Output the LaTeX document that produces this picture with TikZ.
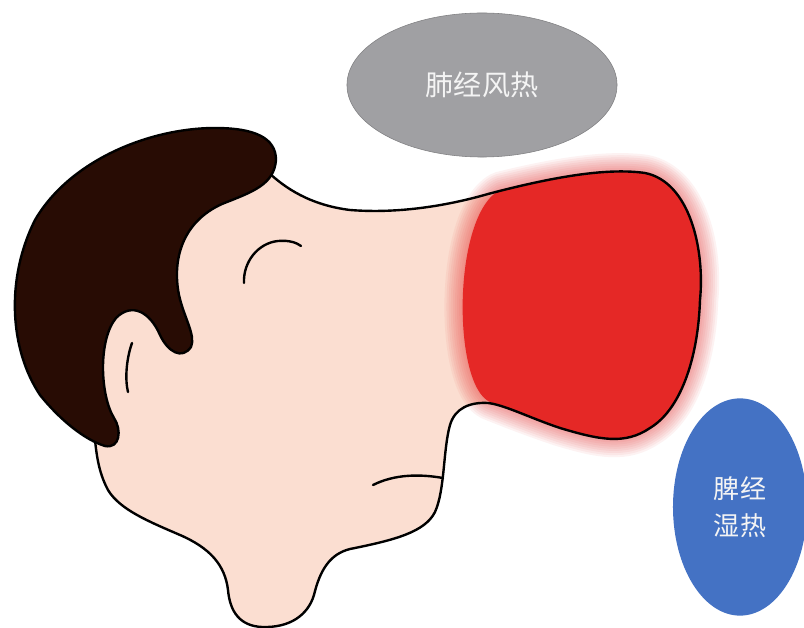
\documentclass[tikz,border=0pt]{standalone}
\usepackage{fontspec}
\newfontfamily\cjk{Noto Sans CJK SC}
\usetikzlibrary{shapes.geometric}
\definecolor{skin}{RGB}{251,222,209}
\definecolor{hairc}{RGB}{40,12,4}
\definecolor{nosered}{RGB}{229,40,38}
\definecolor{bubblegrey}{RGB}{160,160,163}
\definecolor{bubbleblue}{RGB}{68,114,196}
\definecolor{labeltext}{RGB}{244,244,244}
\tikzset{
  outline/.style={draw=black, line width=1.7pt, line cap=round, line join=round},
  bubble/.style={ellipse, inner sep=0pt, text=labeltext, font=\cjk},
}
% red area of the nose, rounded left edge fading into the face
\def\nosefill{(500,190) .. controls (560,175) and (610,168) .. (645,173)
  .. controls (690,182) and (705,250) .. (700,300)
  .. controls (698,360) and (680,410) .. (650,428)
  .. controls (625,445) and (600,440) .. (560,428)
  .. controls (530,418) and (505,408) .. (490,402)
  .. controls (452,385) and (452,215) .. (500,190) -- cycle}
\begin{document}
\begin{tikzpicture}[x=0.025cm, y=-0.025cm]
\useasboundingbox (0,0) rectangle (804,628);
\fill[white] (0,0) rectangle (804,628);

% skin of the face, partly hidden by the hair
\fill[skin] (268,172) .. controls (285,188) and (310,205) .. (350,210)
  .. controls (400,214) and (450,205) .. (488,194)
  .. controls (560,175) and (610,168) .. (645,173)
  .. controls (690,182) and (705,250) .. (700,300)
  .. controls (698,360) and (680,410) .. (650,428)
  .. controls (625,445) and (600,440) .. (560,428)
  .. controls (530,418) and (505,405) .. (488,403)
  .. controls (470,402) and (455,408) .. (450,425)
  .. controls (443,450) and (445,490) .. (435,512)
  .. controls (425,532) and (395,540) .. (350,549)
  .. controls (330,554) and (320,570) .. (314,595)
  .. controls (308,615) and (290,628) .. (262,627)
  .. controls (240,626) and (230,612) .. (228,590)
  .. controls (225,565) and (210,548) .. (180,535)
  .. controls (150,522) and (120,510) .. (108,490)
  .. controls (100,475) and (97,460) .. (95,440)
  -- (40,390) -- (25,250) -- (150,140) -- (265,150) -- cycle;

% glowing red nose
\foreach \w in {2,5,8,11,14,17,20,23,26}
  \draw[nosered, opacity=0.06, line width=\w pt, line join=round] \nosefill;
\fill[nosered] \nosefill;

% face contour: forehead, nose, chin
\draw[outline] (268,172) .. controls (285,188) and (310,205) .. (350,210)
  .. controls (400,214) and (450,205) .. (488,194)
  .. controls (560,175) and (610,168) .. (645,173)
  .. controls (690,182) and (705,250) .. (700,300)
  .. controls (698,360) and (680,410) .. (650,428)
  .. controls (625,445) and (600,440) .. (560,428)
  .. controls (530,418) and (505,405) .. (488,403)
  .. controls (470,402) and (455,408) .. (450,425)
  .. controls (443,450) and (445,490) .. (435,512)
  .. controls (425,532) and (395,540) .. (350,549)
  .. controls (330,554) and (320,570) .. (314,595)
  .. controls (308,615) and (290,628) .. (262,627)
  .. controls (240,626) and (230,612) .. (228,590)
  .. controls (225,565) and (210,548) .. (180,535)
  .. controls (150,522) and (120,510) .. (108,490)
  .. controls (100,475) and (97,460) .. (95,440);

% mouth
\draw[outline] (373,485) .. controls (395,474) and (420,474) .. (443,478);
% eye
\draw[outline] (244,283) .. controls (243,262) and (258,243) .. (278,241)
  .. controls (290,240) and (297,243) .. (301,246);

% hair
\filldraw[fill=hairc, outline] (276,160) .. controls (276,138) and (255,128) .. (215,128)
  .. controls (150,128) and (70,160) .. (35,220)
  .. controls (5,280) and (10,350) .. (40,395)
  .. controls (60,420) and (85,440) .. (105,446)
  .. controls (120,449) and (122,430) .. (114,418)
  .. controls (100,395) and (98,340) .. (116,318)
  .. controls (132,302) and (150,312) .. (160,335)
  .. controls (168,352) and (182,360) .. (191,347)
  .. controls (196,335) and (184,318) .. (179,295)
  .. controls (172,260) and (182,222) .. (222,204)
  .. controls (252,192) and (274,185) .. (276,160) -- cycle;

% ear
\draw[outline] (132,343) .. controls (126,360) and (125,380) .. (128,392);

% labels
\node[bubble, fill=bubblegrey, draw=bubblegrey!80!black, line width=0.4pt,
  minimum width=6.75cm, minimum height=3.6cm, font=\cjk\fontsize{20}{24}\selectfont]
  (lung) at (482,85) {肺经风热};
\node[bubble, fill=bubbleblue, minimum width=3.35cm, minimum height=5.43cm,
  align=center, font=\cjk\fontsize{18.5}{26.5}\selectfont]
  (spleen) at (740,507) {脾经\\湿热};
\end{tikzpicture}
\end{document}
